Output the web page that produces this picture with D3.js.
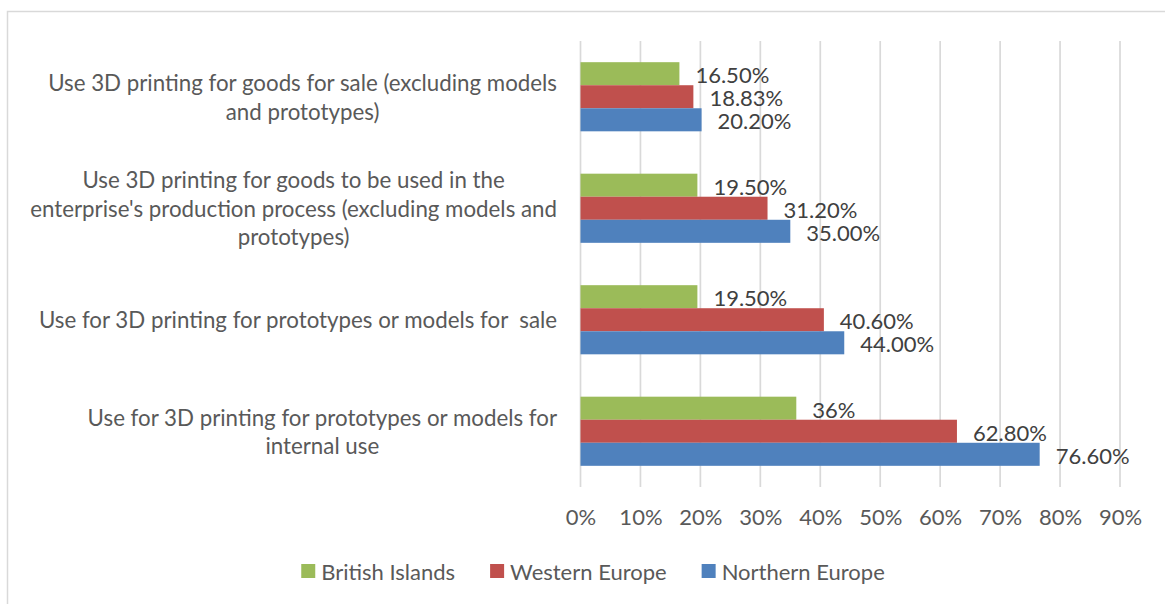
<!DOCTYPE html>
<html>
<head>
<meta charset="utf-8">
<script src="https://cdn.jsdelivr.net/npm/d3@7"></script>
<style>
  html, body { margin: 0; padding: 0; background: #fff; }
  svg { display: block; }
  text { font-family: Lato, "Liberation Sans", sans-serif; }
</style>
</head>
<body>
<svg id="chart" width="1165" height="604"></svg>
<script>
// Categories, top to bottom, already wrapped into display lines
const categories = [
  "Use 3D printing for goods for sale (excluding models\nand prototypes)",
  "Use 3D printing for goods to be used in the\nenterprise's production process (excluding models and\nprototypes)",
  "Use for 3D printing for prototypes or models for  sale",
  "Use for 3D printing for prototypes or models for\ninternal use"
];

const seriesNames = ["British Islands", "Western Europe", "Northern Europe"];
const seriesColors = ["#9BBB59", "#C0504D", "#4F81BD"];

// Share of enterprises (%), one value per category
const britishIslands = [16.5, 19.5, 19.5, 36];
const westernEurope = [18.83, 31.2, 40.6, 62.8];
const northernEurope = [20.2, 35.0, 44.0, 76.6];

// Values that are labelled without decimals
const wholeLabels = [{ series: "British Islands", category: 3 }];

const xTicks = [0, 10, 20, 30, 40, 50, 60, 70, 80, 90];

const seriesValues = [britishIslands, westernEurope, northernEurope];

const svg = d3.select("#chart");
const fontSize = 22;
const categoryFontSize = 22.3;
const textGrey = "#595959";
const labelGrey = "#404040";

// chart frame
svg.append("rect")
  .attr("x", 7.5).attr("y", 11.5)
  .attr("width", 1300).attr("height", 800)
  .attr("fill", "#fff")
  .attr("stroke", "#D9D9D9").attr("stroke-width", 1.5);

const plot = { left: 580.5, right: 1120, top: 41, bottom: 487 };

const x = d3.scaleLinear().domain([0, 90]).range([plot.left, plot.right]);
const y = d3.scaleBand().domain(d3.range(categories.length))
  .range([plot.top, plot.bottom]).paddingInner(0.38).paddingOuter(0.19);
const ySeries = d3.scaleBand().domain(seriesNames).range([0, y.bandwidth()]);

// vertical gridlines
svg.append("g").selectAll("line").data(xTicks).join("line")
  .attr("x1", d => x(d)).attr("x2", d => x(d))
  .attr("y1", plot.top).attr("y2", plot.bottom)
  .attr("stroke", "#D9D9D9").attr("stroke-width", 1.7);

// x axis tick labels
const xAxis = d3.axisBottom(x).tickValues(xTicks).tickSize(0).tickPadding(0)
  .tickFormat(d => d + "%");
const gx = svg.append("g").attr("transform", `translate(0,${plot.bottom + 22})`).call(xAxis);
gx.select(".domain").remove();
gx.selectAll("text")
  .attr("font-family", "Lato, 'Liberation Sans', sans-serif")
  .attr("font-size", fontSize).attr("fill", textGrey);

// bars
const rows = [];
categories.forEach((c, ci) => {
  seriesNames.forEach((s, si) => {
    rows.push({ ci, series: s, color: seriesColors[si], value: seriesValues[si][ci] });
  });
});

svg.append("g").selectAll("rect").data(rows).join("rect")
  .attr("x", x(0))
  .attr("y", d => y(d.ci) + ySeries(d.series))
  .attr("width", d => x(d.value) - x(0))
  .attr("height", ySeries.bandwidth())
  .attr("fill", d => d.color);

// data labels
const fmt = d => {
  const whole = wholeLabels.some(w => w.series === d.series && w.category === d.ci);
  return whole ? d3.format(".0f")(d.value) + "%" : d3.format(".2f")(d.value) + "%";
};
svg.append("g").selectAll("text").data(rows).join("text")
  .attr("x", d => x(d.value) + 16)
  .attr("y", d => y(d.ci) + ySeries(d.series) + ySeries.bandwidth() / 2 + 1)
  .attr("dominant-baseline", "central")
  .attr("font-size", fontSize).attr("fill", labelGrey)
  .text(fmt);

// category labels, centred and kept clear of the axis
const labelRight = 557;
const lineHeight = 28.5;
const catG = svg.append("g");
categories.forEach((c, ci) => {
  const lines = c.split("\n");
  const g = catG.append("g");
  const texts = g.selectAll("text").data(lines).join("text")
    .attr("font-size", categoryFontSize).attr("fill", textGrey)
    .attr("text-anchor", "middle")
    .attr("dominant-baseline", "central")
    .style("white-space", "pre")
    .attr("y", (d, i) => y(ci) + y.bandwidth() / 2 + (i - (lines.length - 1) / 2) * lineHeight)
    .text(d => d);
  const widest = d3.max(texts.nodes(), n => n.getComputedTextLength());
  texts.attr("x", labelRight - widest / 2);
});

// legend
const legend = svg.append("g");
let lx = 0;
seriesNames.forEach((s, i) => {
  const item = legend.append("g");
  item.append("rect").attr("x", 0).attr("y", -7).attr("width", 14).attr("height", 14)
    .attr("fill", seriesColors[i]);
  const t = item.append("text").attr("x", 20).attr("y", 0)
    .attr("dominant-baseline", "central")
    .attr("font-size", fontSize).attr("fill", textGrey).text(s);
  const w = 20 + t.node().getComputedTextLength();
  item.attr("transform", `translate(${lx},0)`);
  lx += w + 35;
});
const legendWidth = lx - 35;
legend.attr("transform", `translate(${593 - legendWidth / 2},571)`);
</script>
</body>
</html>
